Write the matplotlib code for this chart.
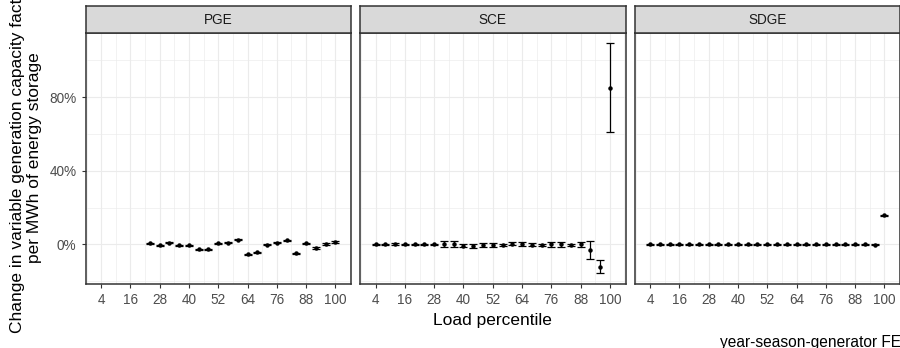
import matplotlib
matplotlib.use("Agg")
import matplotlib.pyplot as plt
import numpy as np
from matplotlib.ticker import FixedLocator

plt.rcParams["font.family"] = ["Liberation Sans", "DejaVu Sans"]

# data (percent change per MWh of storage)
utilities = ["PGE", "SCE", "SDGE"]
load_pct = list(range(4, 101, 4))

pge_x = list(range(24, 101, 4))
pge_est = [0.5, -0.5, 0.9, -0.5, -0.5, -2.7, -2.7, 0.5, 0.9, 2.5,
           -5.5, -4.4, -0.2, 0.9, 2.2, -4.9, 0.5, -2.0, 0.2, 1.3]
pge_lo = [v - 0.3 for v in pge_est]
pge_hi = [v + 0.3 for v in pge_est]

sce_x = load_pct
sce_est = [0.0, 0.0, 0.2, 0.0, 0.0, 0.0, 0.0, 0.2, 0.4, -0.7, -0.9, -0.3, -0.3,
           -0.2, 0.4, 0.2, -0.2, -0.5, 0.0, 0.0, -0.2, 0.0, -3.3, -12.2, 84.9]
sce_lo = [-0.3, -0.3, -0.4, -0.3, -0.3, -0.3, -0.3, -1.4, -1.2, -1.6, -1.9, -1.3, -1.2,
          -0.7, -0.5, -0.7, -0.9, -1.0, -1.3, -1.5, -0.7, -1.4, -8.2, -15.8, 61.2]
sce_hi = [0.3, 0.3, 0.8, 0.3, 0.3, 0.3, 0.3, 1.8, 2.0, 0.2, 0.1, 0.7, 0.6,
          0.3, 1.3, 1.1, 0.5, 0.0, 1.3, 1.5, 0.3, 1.4, 2.0, -8.5, 109.1]

sdge_x = load_pct
sdge_est = [0.0] * 23 + [-0.3, 15.8]
sdge_lo = [v - 0.25 for v in sdge_est]
sdge_hi = [v + 0.25 for v in sdge_est]

series = {
    "PGE": (pge_x, pge_est, pge_lo, pge_hi),
    "SCE": (sce_x, sce_est, sce_lo, sce_hi),
    "SDGE": (sdge_x, sdge_est, sdge_lo, sdge_hi),
}

W, H = 900, 348
fig = plt.figure(figsize=(W / 100, H / 100), dpi=100)

lefts = [85.5, 360, 634.5]
pw = 265.5
ptop, pbot, stop = 33, 284.3, 6
grey20 = "#333333"
grey30 = "#4D4D4D"
grey92 = "#EBEBEB"

for left, name in zip(lefts, utilities):
    ax = fig.add_axes([left / W, (H - pbot) / H, pw / W, (pbot - ptop) / H])
    x, est, lo, hi = series[name]
    est = np.array(est)
    yerr = [est - np.array(lo), np.array(hi) - est]
    ax.errorbar(x, est, yerr=yerr, fmt="o", color="black", ms=2.2,
                elinewidth=0.9, capsize=2.7, capthick=0.9, zorder=3)
    ax.set_xlim(-2.45, 106.45)
    ax.set_ylim(-21.7, 114.8)
    ax.set_xticks(range(4, 101, 12))
    ax.xaxis.set_minor_locator(FixedLocator(range(-2, 107, 12)))
    ax.set_yticks([0, 40, 80])
    ax.yaxis.set_minor_locator(FixedLocator([-20, 20, 60, 100]))
    if left == lefts[0]:
        ax.set_yticklabels(["0%", "40%", "80%"])
    else:
        ax.tick_params(axis="y", which="both", left=False, labelleft=False)
    ax.grid(which="major", color=grey92, lw=0.8)
    ax.grid(which="minor", color=grey92, lw=0.45)
    ax.set_axisbelow(True)
    ax.tick_params(axis="both", which="major", length=3, width=0.8, color=grey20,
                   labelcolor=grey30, labelsize=9.8, pad=3.5)
    ax.tick_params(axis="both", which="minor", length=0)
    for sp in ax.spines.values():
        sp.set_color(grey20)
        sp.set_linewidth(1.1)

    sax = fig.add_axes([left / W, (H - ptop) / H, pw / W, (ptop - stop) / H])
    sax.set_facecolor("#D9D9D9")
    sax.set_xticks([])
    sax.set_yticks([])
    for sp in sax.spines.values():
        sp.set_color(grey20)
        sp.set_linewidth(1.1)
    sax.text(0.5, 0.5, name, transform=sax.transAxes, ha="center", va="center",
             fontsize=9.8, color="#1A1A1A")

fig.text(492 / W, 1 - 320 / H, "Load percentile", ha="center", va="center",
         fontsize=12.5, color="black")
fig.text(26 / W, 1 - 158 / H,
         "Change in variable generation capacity factor\nper MWh of energy storage",
         rotation=90, ha="center", va="center", fontsize=12.5, color="black",
         linespacing=1.15, multialignment="center")
fig.text(901 / W, 1 - 342 / H, "year-season-generator FE", ha="right", va="center",
         fontsize=11.2, color="black")

fig.savefig("out.png", dpi=100)
